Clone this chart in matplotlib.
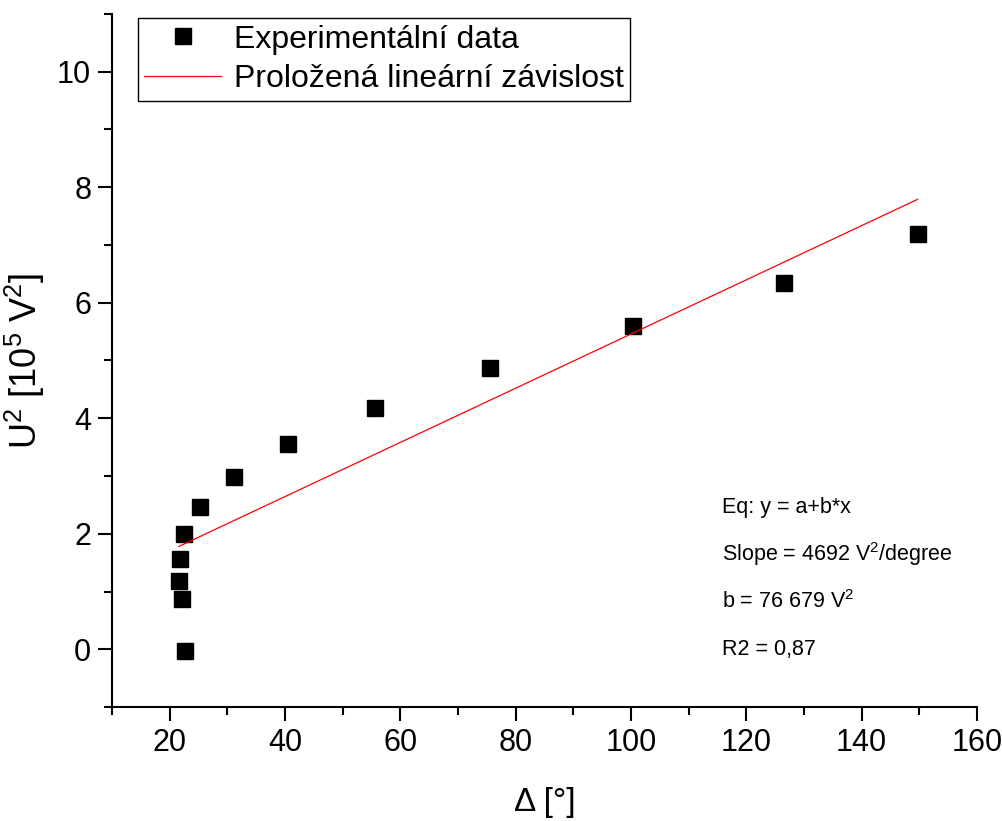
import matplotlib
matplotlib.use('Agg')
import matplotlib.pyplot as plt
from matplotlib.ticker import MultipleLocator

plt.rcParams['font.family'] = ['Liberation Sans', 'DejaVu Sans']
plt.rcParams['mathtext.default'] = 'regular'

# measured points: angle [deg] and U^2 [10^5 V^2]
delta = [22.6, 22.1, 21.6, 21.8, 22.4, 25.3, 31.1, 40.5, 55.6, 75.5, 100.3, 126.5, 149.7]
u_sq = [-0.03, 0.87, 1.19, 1.57, 1.99, 2.47, 2.98, 3.56, 4.18, 4.87, 5.59, 6.35, 7.19]

# fit parameters from the plot annotation (in 10^5 V^2 units)
slope = 0.04692
intercept = 0.76679

fit_x = [min(delta), max(delta)]
fit_y = [intercept + slope * v for v in fit_x]

fig = plt.figure(figsize=(10.03, 8.21), dpi=100)
ax = fig.add_axes([112 / 1003, 1 - 707 / 821, (977 - 112) / 1003, (707 - 14) / 821])

ax.plot(delta, u_sq, 's', color='black', markersize=11, label='Experimentální data')
ax.plot(fit_x, fit_y, '-', color='red', linewidth=0.9, label='Proložená lineární závislost')

ax.set_xlim(10, 160)
ax.set_ylim(-1, 11)
ax.xaxis.set_major_locator(MultipleLocator(20))
ax.xaxis.set_minor_locator(MultipleLocator(10))
ax.yaxis.set_major_locator(MultipleLocator(2))
ax.yaxis.set_minor_locator(MultipleLocator(1))

for s in ['top', 'right']:
    ax.spines[s].set_visible(False)
for s in ['left', 'bottom']:
    ax.spines[s].set_linewidth(1.5)

ax.tick_params(which='major', direction='out', length=10, width=1.5, labelsize=22, pad=5)
ax.tick_params(which='minor', direction='out', length=5.5, width=1.5)

ax.set_xlabel('Δ [°]', fontsize=24, labelpad=21)
ax.set_ylabel('U$^2$ [10$^5$ V$^2$]', fontsize=26, labelpad=7)

leg = ax.legend(loc='upper left', bbox_to_anchor=(0.03, 0.994), fontsize=23,
                frameon=True, fancybox=False, edgecolor='black', framealpha=1,
                handlelength=2.4, handletextpad=0.4, labelspacing=0.3,
                borderpad=0.2, borderaxespad=0)
leg.get_frame().set_linewidth(1.0)

info = ['Eq: y = a+b*x',
        'Slope = 4692 V$^2$/degree',
        'b = 76 679 V$^2$',
        'R2 = 0,87']
for i, line in enumerate(info):
    fig.text(722 / 1003, 1 - (507 + 47.5 * i) / 821, line, fontsize=15.5,
             ha='left', va='center')

fig.savefig('out.png', dpi=100)
